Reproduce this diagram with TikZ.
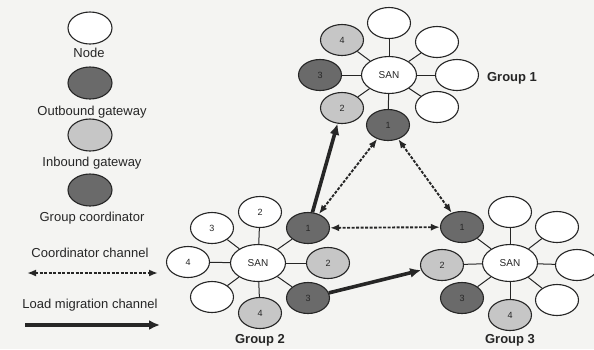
\documentclass[tikz,border=0pt]{standalone}
\usepackage{fontspec}
\setmainfont{Liberation Sans}
\usetikzlibrary{arrows.meta,shapes.geometric}
\definecolor{bg}{HTML}{F4F4F2}
\definecolor{ink}{HTML}{262626}
\definecolor{darkfill}{HTML}{6A6A6A}
\definecolor{lightfill}{HTML}{C6C6C6}
\begin{document}
\begin{tikzpicture}[x=1pt,y=-1pt,
  blank/.style={ellipse, draw=ink, line width=1.1pt, fill=white, minimum width=43pt, minimum height=31pt, inner sep=0pt, text=ink, font=\fontsize{9}{9}\selectfont},
  outb/.style={blank, fill=darkfill},
  inb/.style={blank, fill=lightfill},
  coord/.style={blank, fill=darkfill},
  san/.style={blank, minimum width=55pt, minimum height=37pt, font=\fontsize{10}{10}\selectfont},
  legell/.style={minimum width=44pt, minimum height=32pt},
  spoke/.style={draw=ink, line width=1pt},
  legtext/.style={text=ink, font=\fontsize{13}{13}\selectfont, inner sep=0pt},
  grouplbl/.style={text=ink, font=\bfseries\fontsize{13}{13}\selectfont, inner sep=0pt},
  coordch/.style={draw=ink, line width=1.9pt, dash pattern=on 3pt off 1.5pt, {Latex[length=9pt,width=7pt]}-{Latex[length=9pt,width=7pt]}},
  loadch/.style={draw=ink, line width=3.6pt, -{Latex[length=11pt,width=10pt]}}
]
\fill[bg] (0,0) rectangle (594,349);
\useasboundingbox (0,0) rectangle (594,349);

% Legend
\node[blank, legell] (lnode) at (90,28) {};
\node[legtext] (tnode) at (89,53) {Node};
\node[outb, legell] (lout) at (90,83) {};
\node[legtext] (tout) at (92,112) {Outbound gateway};
\node[inb, legell] (lin) at (90,135) {};
\node[legtext] (tin) at (92,163) {Inbound gateway};
\node[coord, legell] (lcoord) at (90,190) {};
\node[legtext] (tcoord) at (92,218) {Group coordinator};
\node[legtext] (tcch) at (90,253) {Coordinator channel};
\coordinate (cca) at (27,273);
\coordinate (ccb) at (158,273);
\draw[coordch] (cca) -- (ccb);
\node[legtext] (tlch) at (90,305) {Load migration channel};
\coordinate (lca) at (25,325);
\coordinate (lcb) at (160,325);
\draw[loadch] (lca) -- (lcb);

% Group 1
\node[san] (s1) at (389,75) {SAN};
\node[blank] (g1t) at (389,23) {};
\node[blank] (g1tr) at (437,42) {};
\node[blank] (g1r) at (457,75) {};
\node[blank] (g1br) at (437,107) {};
\node[coord] (g1c) at (388,125) {1};
\node[inb] (g1i2) at (342,108) {2};
\node[outb] (g1o3) at (320,75) {3};
\node[inb] (g1i4) at (342,40) {4};
\foreach \n in {g1t,g1tr,g1r,g1br,g1c,g1i2,g1o3,g1i4} \draw[spoke] (s1) -- (\n);
\node[grouplbl] (lg1) at (512,78) {Group 1};

% Group 2
\node[san] (s2) at (258,263) {SAN};
\node[blank] (g2t) at (260,212) {2};
\node[blank] (g2tl) at (212,228) {3};
\node[blank] (g2l) at (188,262) {4};
\node[blank] (g2bl) at (212,297) {};
\node[inb] (g2i4) at (260,313) {4};
\node[outb] (g2o3) at (308,298) {3};
\node[inb] (g2i2) at (328,263) {2};
\node[coord] (g2c) at (308,228) {1};
\foreach \n in {g2t,g2tl,g2l,g2bl,g2i4,g2o3,g2i2,g2c} \draw[spoke] (s2) -- (\n);
\node[grouplbl] (lg2) at (260,340) {Group 2};

% Group 3
\node[san] (s3) at (510,263) {SAN};
\node[blank] (g3t) at (510,212) {};
\node[blank] (g3tr) at (557,227) {};
\node[blank] (g3r) at (577,265) {};
\node[blank] (g3br) at (557,300) {};
\node[inb] (g3i4) at (510,315) {4};
\node[outb] (g3o3) at (462,298) {3};
\node[inb] (g3i2) at (442,265) {2};
\node[coord] (g3c) at (462,227) {1};
\foreach \n in {g3t,g3tr,g3r,g3br,g3i4,g3o3,g3i2,g3c} \draw[spoke] (s3) -- (\n);
\node[grouplbl] (lg3) at (510,340) {Group 3};

% Channels
\draw[loadch] (g2c) -- (g1i2);
\draw[loadch] (g2o3) -- (g3i2);
\draw[coordch] (g2c) -- (g1c);
\draw[coordch] (g3c) -- (g1c);
\draw[coordch] (g2c) -- (g3c);
\end{tikzpicture}
\end{document}
